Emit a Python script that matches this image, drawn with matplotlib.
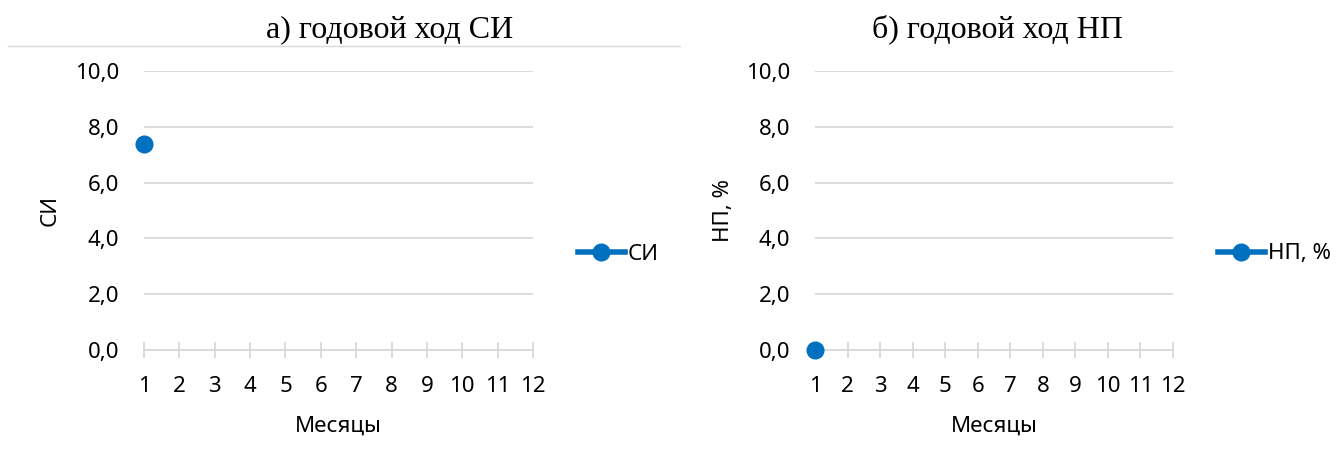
import numpy as np
import matplotlib
matplotlib.use("Agg")
import matplotlib.pyplot as plt
from matplotlib.lines import Line2D

months = [1, 2, 3, 4, 5, 6, 7, 8, 9, 10, 11, 12]
si_vals = [7.4, np.nan, np.nan, np.nan, np.nan, np.nan,
           np.nan, np.nan, np.nan, np.nan, np.nan, np.nan]
np_vals = [0.0, np.nan, np.nan, np.nan, np.nan, np.nan,
           np.nan, np.nan, np.nan, np.nan, np.nan, np.nan]
y_ticks = [0, 2, 4, 6, 8, 10]
y_labels = ["0,0", "2,0", "4,0", "6,0", "8,0", "10,0"]

plt.rcParams['font.family'] = ['Noto Sans', 'DejaVu Sans']

W, H = 1342, 457
fig = plt.figure(figsize=(W / 100, H / 100), dpi=100)

blue = '#0070C0'
grid = '#d9d9d9'
fs = 16

def px(x0, y0, x1, y1):
    return [x0 / W, 1 - y1 / H, (x1 - x0) / W, (y1 - y0) / H]

panels = [
    dict(rect=px(144, 71, 533, 350), vals=si_vals, name="СИ",
         title="а) годовой ход СИ", tx=390, ylx=61, leg=578),
    dict(rect=px(815, 71, 1173, 350), vals=np_vals, name="НП, %",
         title="б) годовой ход НП", tx=998, ylx=734, leg=1218),
]

for p in panels:
    ax = fig.add_axes(p['rect'])
    ax.plot(months, p['vals'], color=blue, lw=4, marker='o', ms=12,
            clip_on=False, zorder=5)
    ax.set_xlim(1, 12)
    ax.set_ylim(0, 10)
    ax.set_xticks(months)
    ax.set_xticklabels([str(m) for m in months], fontsize=fs)
    ax.set_yticks(y_ticks)
    ax.set_yticklabels(y_labels, fontsize=fs)
    ax.grid(axis='y', color=grid, lw=1.3)
    ax.set_axisbelow(True)
    for s in ['top', 'right', 'left']:
        ax.spines[s].set_visible(False)
    ax.spines['bottom'].set_color(grid)
    ax.spines['bottom'].set_linewidth(1.3)
    ax.tick_params(axis='x', direction='inout', length=12, width=1.3,
                   color=grid, pad=13)
    ax.tick_params(axis='y', length=0, pad=18)
    ax.set_xlabel("Месяцы", fontsize=fs, labelpad=13)
    ax.set_ylabel(p['name'], fontsize=fs)
    x0 = p['rect'][0] * W
    ax.yaxis.set_label_coords((p['ylx'] - x0) / (p['rect'][2] * W), 0.5)

    fig.text(p['tx'] / W, 1 - 37 / H, p['title'], family='Liberation Serif',
             fontsize=23, ha='center', va='baseline')

    h = Line2D([], [], color=blue, lw=4, marker='o', ms=12)
    fig.legend([h], [p['name']], loc='center left', frameon=False,
               bbox_to_anchor=(p['leg'] / W, 1 - 254 / H), fontsize=fs,
               borderpad=0, borderaxespad=0, handlelength=2.1,
               handletextpad=0.15)

# thin line under the left title
fig.add_artist(Line2D([8 / W, 680 / W], [1 - 46 / H, 1 - 46 / H],
                      color='#d9d9d9', lw=1))

fig.savefig("out.png", dpi=100)
